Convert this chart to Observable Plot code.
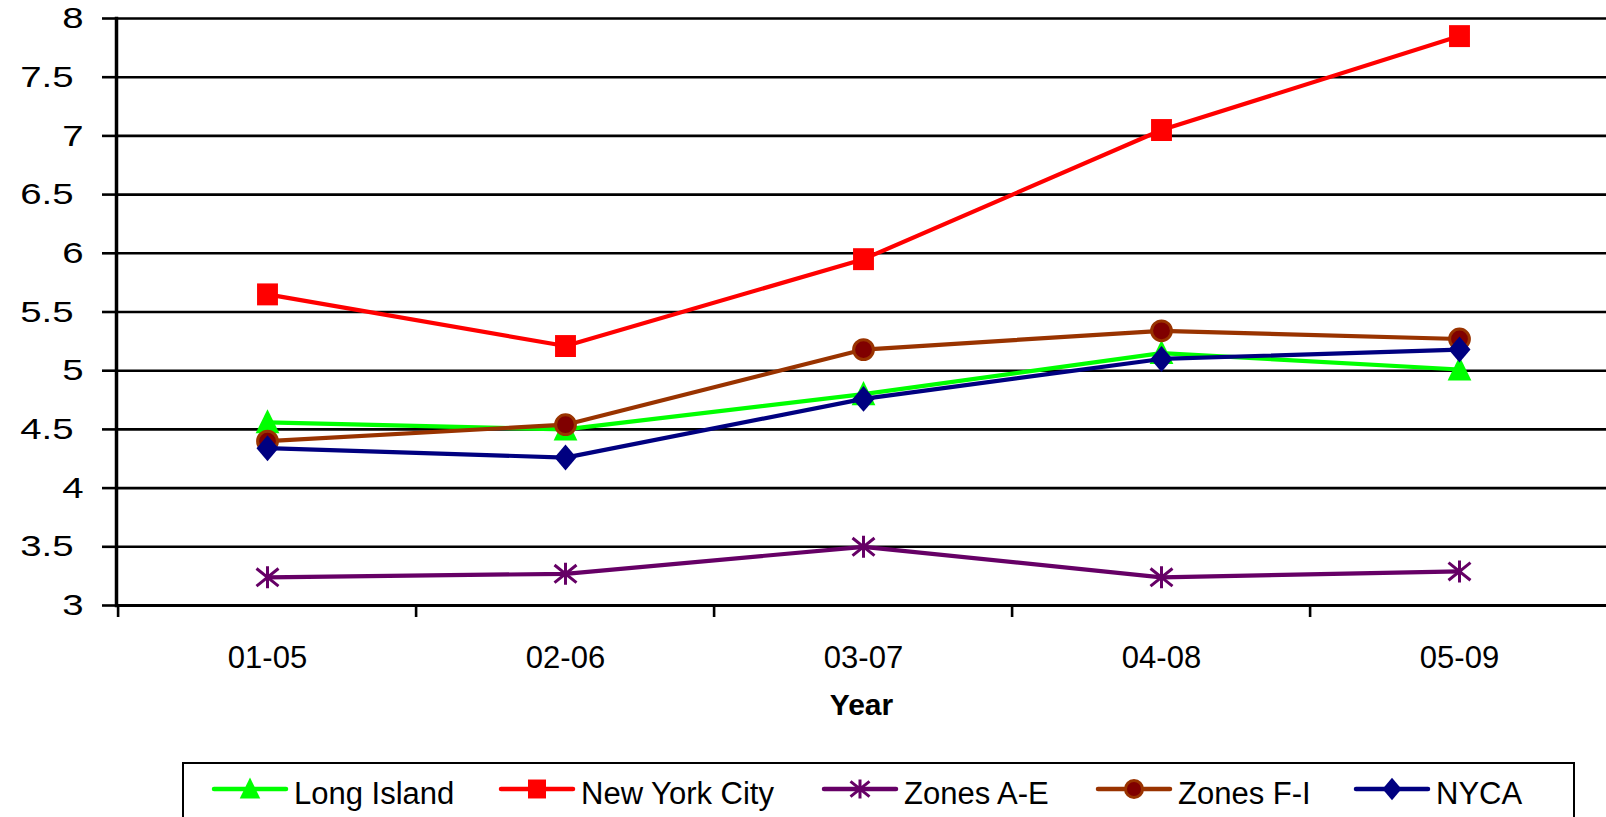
<!DOCTYPE html>
<html>
<head>
<meta charset="utf-8">
<script src="https://cdn.jsdelivr.net/npm/d3@7"></script>
<script src="https://cdn.jsdelivr.net/npm/@observablehq/plot@0.6"></script>
<style>
  html, body { margin: 0; padding: 0; background: #fff; }
  body { width: 1606px; height: 817px; overflow: hidden; position: relative; font-family: "Liberation Sans", Arial, sans-serif; }
  #legend { position: absolute; left: 182px; top: 762px; width: 1393px; height: 70px; border: 2.5px solid #000; box-sizing: border-box; background: #fff; }
  .item { position: absolute; top: 0; height: 60px; }
  .item svg { position: absolute; top: 10px; left: 0; overflow: visible; }
  .item span { position: absolute; top: 12px; white-space: nowrap; font-size: 31px; color: #000; line-height: 36px; }
</style>
</head>
<body>
<div id="chart"></div>
<div id="legend"></div>
<script>
// ---- data ----
const years = ["01-05", "02-06", "03-07", "04-08", "05-09"];
const longIsland  = [4.56, 4.50, 4.80, 5.15, 5.01];
const newYorkCity = [5.65, 5.21, 5.95, 7.05, 7.85];
const zonesAE     = [3.24, 3.27, 3.50, 3.24, 3.29];
const zonesFI     = [4.40, 4.54, 5.18, 5.34, 5.27];
const nyca        = [4.34, 4.26, 4.76, 5.10, 5.18];
const seriesNames = ["Long Island", "New York City", "Zones A-E", "Zones F-I", "NYCA"];
const yTicks = [3, 3.5, 4, 4.5, 5, 5.5, 6, 6.5, 7, 7.5, 8];

// ---- marker shapes ----
const rad = s => Math.sqrt(s / Math.PI);
const symSquare = { draw(c, s) { const r = rad(s), h = r * 0.95; c.rect(-h, -h * 1.05, 2 * h, 2.1 * h); } };
const symTriangle = { draw(c, s) { const r = rad(s); c.moveTo(0, -1.2 * r); c.lineTo(1.08 * r, 1.0 * r); c.lineTo(-1.08 * r, 1.0 * r); c.closePath(); } };
const symDiamond = { draw(c, s) { const r = rad(s); c.moveTo(0, -1.18 * r); c.lineTo(1.0 * r, 0); c.lineTo(0, 1.18 * r); c.lineTo(-1.0 * r, 0); c.closePath(); } };
const symCircle = { draw(c, s) { const r = rad(s) * 0.9; c.moveTo(r, 0); c.arc(0, 0, r, 0, 2 * Math.PI); } };
const symAsterisk = { draw(c, s) { const r = rad(s); c.moveTo(0, -r); c.lineTo(0, r); c.moveTo(-r, -0.8 * r); c.lineTo(r, 0.8 * r); c.moveTo(-r, 0.8 * r); c.lineTo(r, -0.8 * r); } };

const series = [
  { name: seriesNames[0], values: longIsland,  line: "#00FF00", fill: "#00FF00", stroke: "none",    sw: 0, symbol: symTriangle },
  { name: seriesNames[1], values: newYorkCity, line: "#FF0000", fill: "#FF0000", stroke: "none",    sw: 0, symbol: symSquare },
  { name: seriesNames[2], values: zonesAE,     line: "#660066", fill: "none",    stroke: "#660066", sw: 3, symbol: symAsterisk },
  { name: seriesNames[3], values: zonesFI,     line: "#993300", fill: "#800000", stroke: "#993300", sw: 3, symbol: symCircle },
  { name: seriesNames[4], values: nyca,        line: "#000080", fill: "#000080", stroke: "none",    sw: 0, symbol: symDiamond }
];

const rows = series.flatMap(s => years.map((y, i) => ({ series: s.name, year: y, value: s.values[i] })));

const X0 = 116, X1 = 1610;
const bw = (X1 - X0) / years.length;
const R = 11;
const isInt = d => Number.isInteger(d);

const marks = [
  Plot.ruleY(yTicks, { stroke: "#000", strokeWidth: 2.6 }),
  Plot.ruleY([yTicks[0]], { stroke: "#000", strokeWidth: 3.2 }),
  Plot.frame({ anchor: "left", stroke: "#000", strokeWidth: 3.5 }),
  Plot.axisY({ ticks: yTicks, tickSize: 14, text: null, stroke: "#000", strokeWidth: 2.6, label: null }),
  Plot.axisY({ ticks: yTicks.filter(isInt), tickSize: 14, tickPadding: 19, tickFormat: d => String(d), fontSize: 30, label: null, stroke: "none" }),
  Plot.axisY({ ticks: yTicks.filter(d => !isInt(d)), tickSize: 14, tickPadding: 29, tickFormat: d => String(d), fontSize: 30, label: null, stroke: "none" }),
  Plot.axisX({ tickSize: 12, text: null, dx: -bw / 2, stroke: "#000", strokeWidth: 2.6, label: null }),
  Plot.axisX({ tickSize: 0, tickPadding: 40, fontSize: 31, label: null, style: "letter-spacing:1.5px" }),
  Plot.text(["Year"], { frameAnchor: "bottom", dy: 100, lineAnchor: "middle", fontSize: 30, fontWeight: "bold", fill: "#000" })
];
for (const s of series) {
  const d = rows.filter(r => r.series === s.name);
  marks.push(Plot.line(d, { x: "year", y: "value", stroke: s.line, strokeWidth: 4.2, strokeLinejoin: "round" }));
  marks.push(Plot.dot(d, { x: "year", y: "value", symbol: s.symbol, r: R, fill: s.fill, stroke: s.stroke, strokeWidth: s.sw }));
}

const chart = Plot.plot({
  width: 1606,
  height: 755,
  marginLeft: X0,
  marginRight: 0,
  marginTop: 18,
  marginBottom: 150,
  x: { type: "band", domain: years, range: [X0, X1], padding: 0 },
  y: { domain: [3, 8], range: [605, 18] },
  style: { fontFamily: "'Liberation Sans', Arial, sans-serif", color: "#000", background: "#fff", overflow: "visible" },
  marks
});
document.getElementById("chart").appendChild(chart);

// widen the y tick labels horizontally, anchored at their right edge
d3.select(chart).selectAll('g[aria-label="y-axis tick label"] text').each(function () {
  const t = this.getAttribute("transform") || "";
  this.setAttribute("transform", t + " scale(1.28,1)");
});

// ---- legend ----
const legendX = [28, 315, 638, 912, 1170];
const legend = d3.select("#legend");
series.forEach((s, i) => {
  const it = legend.append("div").attr("class", "item").style("left", legendX[i] + "px");
  const svg = it.append("svg").attr("width", 78).attr("height", 30);
  svg.append("line").attr("x1", 2).attr("x2", 74).attr("y1", 15).attr("y2", 15)
    .attr("stroke", s.line).attr("stroke-width", 4.5).attr("stroke-linecap", "round");
  svg.append("path").attr("transform", "translate(38,15)")
    .attr("d", d3.symbol().type(s.symbol).size(Math.PI * 9.5 * 9.5)())
    .attr("fill", s.fill).attr("stroke", s.stroke).attr("stroke-width", s.sw);
  it.append("span").style("left", "82px").text(s.name);
});
</script>
</body>
</html>
